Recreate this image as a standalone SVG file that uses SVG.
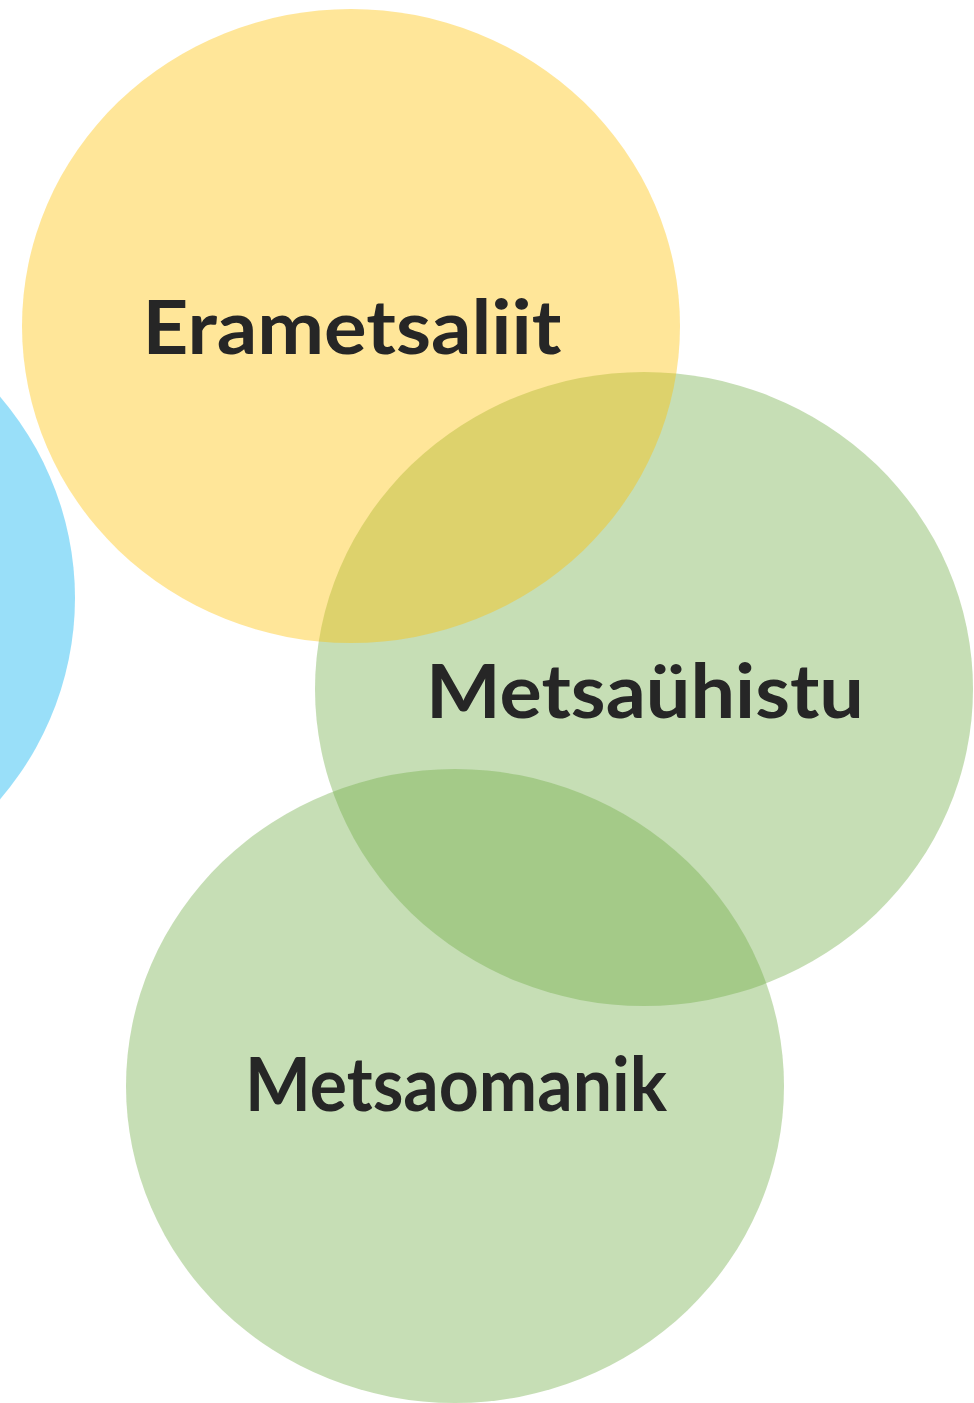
<svg xmlns="http://www.w3.org/2000/svg" width="974" height="1403" viewBox="0 0 974 1403">
<style>
.c{fill-opacity:0.4}
.blue{fill:#00B0F0}
.green{fill:#70AD47}
.yellow{fill:#FFC000}
.t{font-family:Lato,"Open Sans","Liberation Sans",sans-serif;font-weight:bold;font-size:75px;fill:#262626;text-anchor:middle}
</style>
<rect width="974" height="1403" fill="#ffffff"/>
<g id="node-blue"><ellipse class="c blue" cx="-254" cy="598" rx="329" ry="317"/></g>
<g id="node-metsauhistu"><ellipse class="c green" cx="644" cy="689" rx="329" ry="317"/></g>
<g id="node-metsaomanik"><ellipse class="c green" cx="455" cy="1086" rx="329" ry="317"/></g>
<g id="node-erametsaliit"><ellipse class="c yellow" cx="351" cy="326" rx="329" ry="317"/></g>
<g id="labels">
<text class="t" x="352" y="354" textLength="419" lengthAdjust="spacingAndGlyphs">Erametsaliit</text>
<text class="t" x="645" y="718" textLength="438" lengthAdjust="spacingAndGlyphs">Metsaühistu</text>
<text class="t" x="456" y="1111" textLength="422" lengthAdjust="spacingAndGlyphs">Metsaomanik</text>
</g>
<g id="connectors"></g>
</svg>
